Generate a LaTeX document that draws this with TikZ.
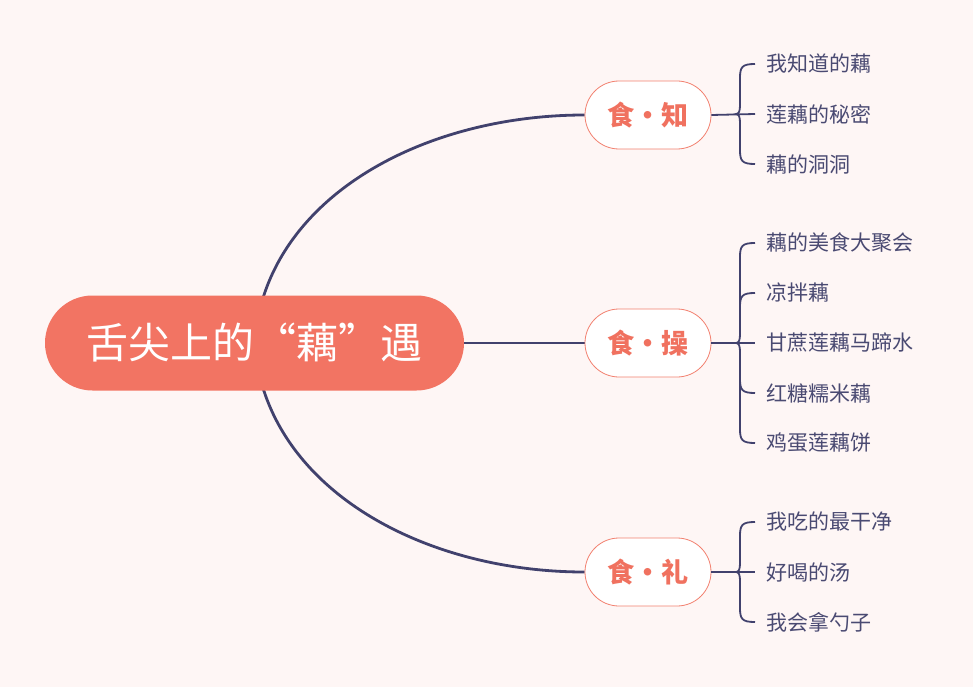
\documentclass[tikz,border=0pt]{standalone}
\usepackage{fontspec}
\setmainfont{Noto Sans CJK SC}
\usetikzlibrary{calc}
\definecolor{bgc}{HTML}{FEF6F5}
\definecolor{rootc}{HTML}{F27463}
\definecolor{salm}{HTML}{F0715F}
\definecolor{salmb}{HTML}{F2806F}
\definecolor{navy}{HTML}{41416D}
\definecolor{subc}{HTML}{4A4A72}
\pgfdeclarelayer{bg}
\pgfsetlayers{bg,main}
\tikzset{
  rootbox/.style={fill=rootc, text=white, minimum width=419pt, minimum height=95pt, rounded corners=47.5pt, inner sep=0pt, font=\fontsize{42}{48}\selectfont},
  branchbox/.style={fill=white, draw=salmb, line width=0.8pt, text=salm, minimum width=126pt, minimum height=68pt, rounded corners=34pt, inner sep=0pt, font=\fontsize{27}{32}\selectfont\bfseries},
  subitem/.style={text=subc, anchor=west, inner sep=0pt, font=\fontsize{21}{25}\selectfont},
  mainline/.style={draw=navy, line width=2.8pt},
  braceline/.style={draw=navy, line width=1.8pt}
}
\begin{document}
\begin{tikzpicture}[x=1pt,y=-1pt]
\begin{pgfonlayer}{bg}
\fill[bgc] (0,0) rectangle (973,687);
\end{pgfonlayer}
\useasboundingbox (0,0) rectangle (973,687);

\node[rootbox] (root) at (254.5,343) {舌尖上的“藕”遇};
\node[branchbox] (b1) at (648,115) {食·知};
\node[branchbox] (b2) at (648,343) {食·操};
\node[branchbox] (b3) at (648,572) {食·礼};

\node[subitem] (s11) at (766,64) {我知道的藕};
\node[subitem] (s12) at (766,114) {莲藕的秘密};
\node[subitem] (s13) at (766,164) {藕的洞洞};

\node[subitem] (s21) at (766,243) {藕的美食大聚会};
\node[subitem] (s22) at (766,293) {凉拌藕};
\node[subitem] (s23) at (766,343) {甘蔗莲藕马蹄水};
\node[subitem] (s24) at (766,393) {红糖糯米藕};
\node[subitem] (s25) at (766,443) {鸡蛋莲藕饼};

\node[subitem] (s31) at (766,522) {我吃的最干净};
\node[subitem] (s32) at (766,572) {好喝的汤};
\node[subitem] (s33) at (766,622) {我会拿勺子};

\begin{pgfonlayer}{bg}
\draw[mainline] (root.center) .. controls (265,200) and (420,115) .. (b1.west);
\draw[mainline] (root.east) -- (b2.west);
\draw[mainline] (root.center) .. controls (265,486) and (420,572) .. (b3.west);
\end{pgfonlayer}

% braces
\draw[braceline] (b1.east) -- ([xshift=-11pt]s12.west);
\draw[braceline] ([xshift=-11pt]s11.west) .. controls (742,64) and (740,67) .. (740,78) -- (740,105)
  .. controls (740,111) and (739,114) .. (736,114) .. controls (739,114) and (740,117) .. (740,123)
  -- (740,150) .. controls (740,161) and (742,164) .. ([xshift=-11pt]s13.west);

\draw[braceline] (b2.east) -- ([xshift=-11pt]s23.west);
\draw[braceline] ([xshift=-11pt]s21.west) .. controls (742,243) and (740,246) .. (740,257) -- (740,334)
  .. controls (740,340) and (739,343) .. (736,343) .. controls (739,343) and (740,346) .. (740,352)
  -- (740,429) .. controls (740,440) and (742,443) .. ([xshift=-11pt]s25.west);
\draw[braceline] (740,307) .. controls (740,296) and (742,293) .. ([xshift=-11pt]s22.west);
\draw[braceline] (740,379) .. controls (740,390) and (742,393) .. ([xshift=-11pt]s24.west);

\draw[braceline] (b3.east) -- ([xshift=-11pt]s32.west);
\draw[braceline] ([xshift=-11pt]s31.west) .. controls (742,522) and (740,525) .. (740,536) -- (740,563)
  .. controls (740,569) and (739,572) .. (736,572) .. controls (739,572) and (740,575) .. (740,581)
  -- (740,608) .. controls (740,619) and (742,622) .. ([xshift=-11pt]s33.west);
\end{tikzpicture}
\end{document}
